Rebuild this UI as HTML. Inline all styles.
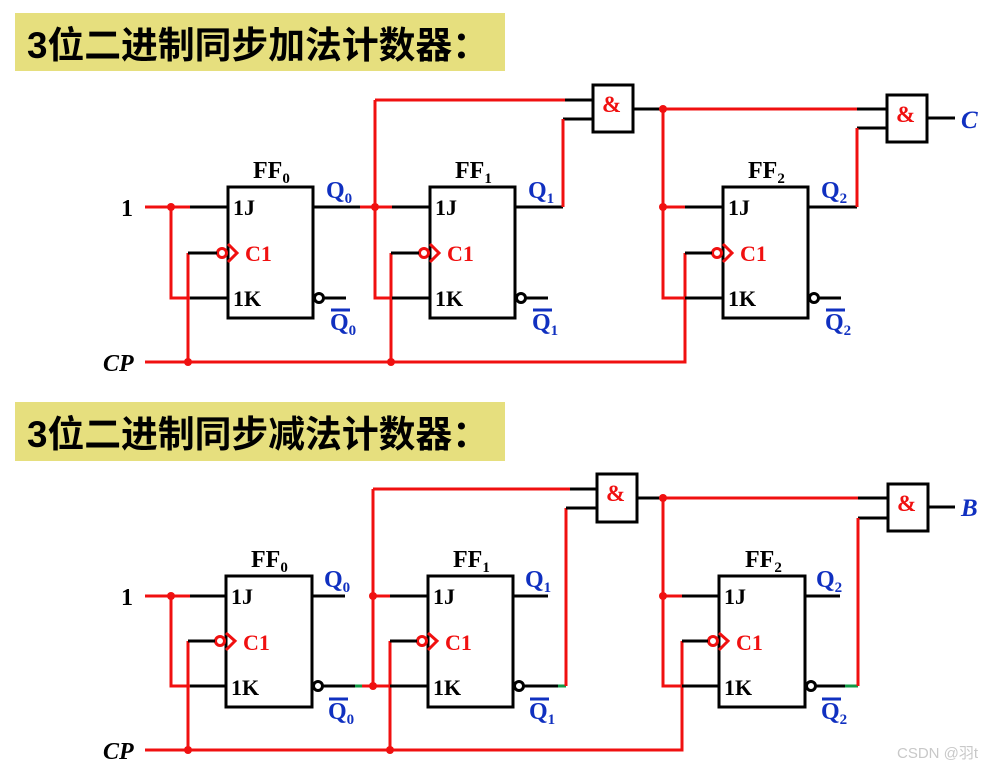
<!DOCTYPE html>
<html><head><meta charset="utf-8"><style>
html,body{margin:0;padding:0;background:#fff;width:995px;height:770px;overflow:hidden}
svg{display:block}
.t{font-family:"Liberation Serif",serif;font-weight:bold}
.cn{font-family:"Liberation Sans","Noto Sans CJK SC",sans-serif;font-weight:bold;font-size:37px}
.r{stroke:#f01010;stroke-width:3;fill:none}
.k{stroke:#000;stroke-width:3;fill:none}
.g{stroke:#119944;stroke-width:3;fill:none}
.lb{font-size:22px;fill:#000}
.c1{font-size:22px;fill:#f01010}
.bl{fill:#1030c0;font-size:24px}
</style></head><body>
<svg width="995" height="770" viewBox="0 0 995 770" xmlns="http://www.w3.org/2000/svg">
<rect x="15" y="13" width="490" height="58" fill="#e6df7e"/>
<text x="27" y="58" class="cn" textLength="462" lengthAdjust="spacingAndGlyphs">3位二进制同步加法计数器：</text>
<rect x="15" y="402" width="490" height="59" fill="#e6df7e"/>
<text x="27" y="447" class="cn" textLength="462" lengthAdjust="spacingAndGlyphs">3位二进制同步减法计数器：</text>

<!-- ============ TOP ============ -->
<g>
<rect x="228" y="187" width="85" height="131" class="k"/>
<rect x="430" y="187" width="85" height="131" class="k"/>
<rect x="723" y="187" width="85" height="131" class="k"/>
<g class="t">
<text x="253" y="178" font-size="24">FF<tspan font-size="15" dy="5">0</tspan></text>
<text x="455" y="178" font-size="24">FF<tspan font-size="15" dy="5">1</tspan></text>
<text x="748" y="178" font-size="24">FF<tspan font-size="15" dy="5">2</tspan></text>
<text x="233" y="215" class="lb">1J</text><text x="233" y="306" class="lb">1K</text><text x="245" y="261" class="c1">C1</text>
<text x="435" y="215" class="lb">1J</text><text x="435" y="306" class="lb">1K</text><text x="447" y="261" class="c1">C1</text>
<text x="728" y="215" class="lb">1J</text><text x="728" y="306" class="lb">1K</text><text x="740" y="261" class="c1">C1</text>
<text x="121" y="216" font-size="24">1</text>
<text x="103" y="371" font-size="24" font-style="italic">CP</text>
<text x="326" y="198" class="bl">Q<tspan font-size="15" dy="5">0</tspan></text>
<text x="528" y="198" class="bl">Q<tspan font-size="15" dy="5">1</tspan></text>
<text x="821" y="198" class="bl">Q<tspan font-size="15" dy="5">2</tspan></text>
<text x="330" y="330" class="bl">Q<tspan font-size="15" dy="5">0</tspan></text>
<text x="532" y="330" class="bl">Q<tspan font-size="15" dy="5">1</tspan></text>
<text x="825" y="330" class="bl">Q<tspan font-size="15" dy="5">2</tspan></text>
<text x="961" y="128" font-size="25" font-style="italic" fill="#1030c0">C</text>
<text x="602" y="112" font-size="23" fill="#f01010">&amp;</text>
<text x="896" y="122" font-size="23" fill="#f01010">&amp;</text>
</g>
<path d="M331 310H350M533 310H552M826 310H845" stroke="#1030c0" stroke-width="3"/>
<path d="M228 244L237 253L228 262M430 244L439 253L430 262M723 244L732 253L723 262" class="r"/>
<circle cx="222" cy="253" r="4.5" class="r"/><circle cx="424" cy="253" r="4.5" class="r"/><circle cx="717" cy="253" r="4.5" class="r"/>
<circle cx="319" cy="298" r="4.5" class="k"/><circle cx="521" cy="298" r="4.5" class="k"/><circle cx="814" cy="298" r="4.5" class="k"/>
<path d="M323 298H346M525 298H548M818 298H841" class="k"/>
<rect x="593" y="85" width="40" height="47" class="k"/>
<rect x="887" y="95" width="40" height="47" class="k"/>
<path d="M145 207H190M171 207V298H190" class="r"/>
<path d="M190 207H228M190 298H228" class="k"/>
<path d="M145 362H685V253M188 362V253M391 362V253" class="r"/>
<path d="M188 253H217M391 253H419M685 253H712" class="k"/>
<path d="M313 207H360M392 207H430M392 298H430" class="k"/>
<path d="M360 207H392M375 100V298H392M375 100H565" class="r"/>
<path d="M565 100H593M515 207H563M563 119H593" class="k"/>
<path d="M563 207V119" class="r"/>
<path d="M633 109H663M857 109H887M685 207H723M685 298H723M808 207H857M857 128H887M927 118H955" class="k"/>
<path d="M663 109H857M663 109V298H685M663 207H685M857 207V128" class="r"/>
<g fill="#f01010"><circle cx="171" cy="207" r="4"/><circle cx="375" cy="207" r="4"/><circle cx="188" cy="362" r="4"/><circle cx="391" cy="362" r="4"/><circle cx="663" cy="109" r="4"/><circle cx="663" cy="207" r="4"/></g>
</g>

<!-- ============ BOTTOM ============ -->
<g>
<rect x="226" y="576" width="86" height="131" class="k"/>
<rect x="428" y="576" width="85" height="131" class="k"/>
<rect x="719" y="576" width="86" height="131" class="k"/>
<g class="t">
<text x="251" y="567" font-size="24">FF<tspan font-size="15" dy="5">0</tspan></text>
<text x="453" y="567" font-size="24">FF<tspan font-size="15" dy="5">1</tspan></text>
<text x="745" y="567" font-size="24">FF<tspan font-size="15" dy="5">2</tspan></text>
<text x="231" y="604" class="lb">1J</text><text x="231" y="695" class="lb">1K</text><text x="243" y="650" class="c1">C1</text>
<text x="433" y="604" class="lb">1J</text><text x="433" y="695" class="lb">1K</text><text x="445" y="650" class="c1">C1</text>
<text x="724" y="604" class="lb">1J</text><text x="724" y="695" class="lb">1K</text><text x="736" y="650" class="c1">C1</text>
<text x="121" y="605" font-size="24">1</text>
<text x="103" y="759" font-size="24" font-style="italic">CP</text>
<text x="324" y="587" class="bl">Q<tspan font-size="15" dy="5">0</tspan></text>
<text x="525" y="587" class="bl">Q<tspan font-size="15" dy="5">1</tspan></text>
<text x="816" y="587" class="bl">Q<tspan font-size="15" dy="5">2</tspan></text>
<text x="328" y="719" class="bl">Q<tspan font-size="15" dy="5">0</tspan></text>
<text x="529" y="719" class="bl">Q<tspan font-size="15" dy="5">1</tspan></text>
<text x="821" y="719" class="bl">Q<tspan font-size="15" dy="5">2</tspan></text>
<text x="961" y="516" font-size="25" font-style="italic" fill="#1030c0">B</text>
<text x="606" y="501" font-size="23" fill="#f01010">&amp;</text>
<text x="897" y="511" font-size="23" fill="#f01010">&amp;</text>
</g>
<path d="M329 699H348M530 699H549M822 699H841" stroke="#1030c0" stroke-width="3"/>
<path d="M226 633L235 641L226 650M428 633L437 641L428 650M719 633L728 641L719 650" class="r"/>
<circle cx="220" cy="641" r="4.5" class="r"/><circle cx="422" cy="641" r="4.5" class="r"/><circle cx="713" cy="641" r="4.5" class="r"/>
<circle cx="318" cy="686" r="4.5" class="k"/><circle cx="519" cy="686" r="4.5" class="k"/><circle cx="811" cy="686" r="4.5" class="k"/>
<rect x="597" y="474" width="40" height="48" class="k"/>
<rect x="888" y="484" width="40" height="47" class="k"/>
<path d="M145 596H190M171 596V686H190" class="r"/>
<path d="M190 596H226M190 686H226" class="k"/>
<path d="M145 750H682V641M188 750V641M390 750V641" class="r"/>
<path d="M188 641H215M390 641H417M682 641H708" class="k"/>
<path d="M312 596H345M513 596H548M805 596H840" class="k"/>
<path d="M322 686H355M390 596H428M390 686H428M523 686H558M815 686H845" class="k"/>
<path d="M355 686H362M558 686H566M845 686H858" class="g"/>
<path d="M362 686H390M373 489V686M373 596H390M373 489H570M566 686V508" class="r"/>
<path d="M570 489H597M566 508H597M637 498H663M858 498H888M682 596H719M682 686H719M858 518H888M928 507H955" class="k"/>
<path d="M663 498H858M663 498V686H682M663 596H682M858 686V518" class="r"/>
<g fill="#f01010"><circle cx="171" cy="596" r="4"/><circle cx="373" cy="596" r="4"/><circle cx="373" cy="686" r="4"/><circle cx="188" cy="750" r="4"/><circle cx="390" cy="750" r="4"/><circle cx="663" cy="498" r="4"/><circle cx="663" cy="596" r="4"/></g>
</g>
<text x="897" y="758" font-family="Liberation Sans, Noto Sans CJK SC, sans-serif" font-size="15" fill="#c8c8c8">CSDN @羽t</text>
</svg>
</body></html>
